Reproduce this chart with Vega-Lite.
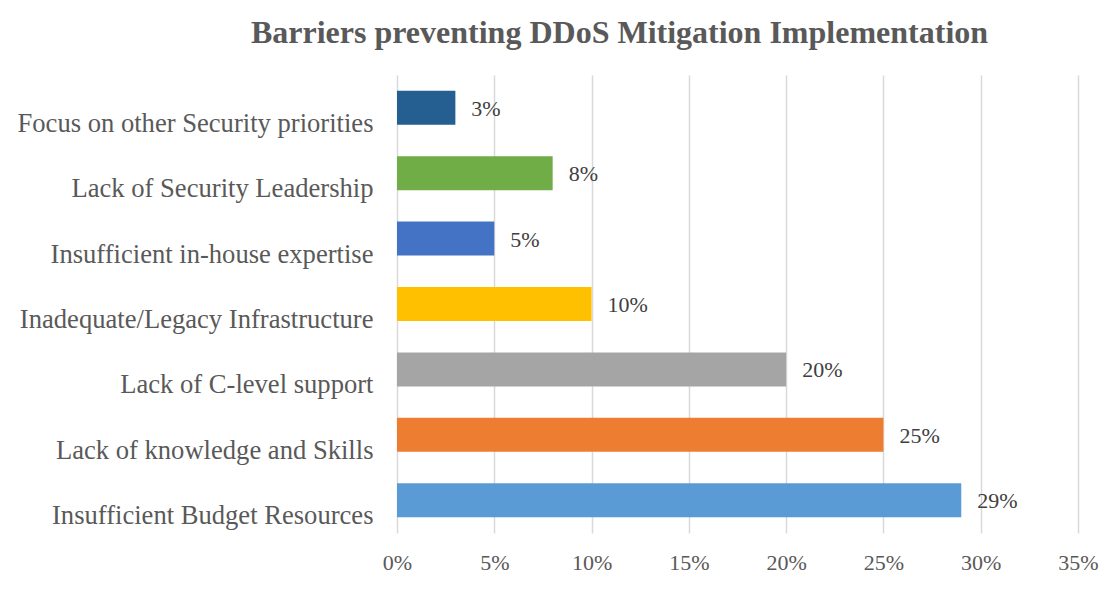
{
  "$schema": "https://vega.github.io/schema/vega-lite/v6.json",
  "width": 681,
  "height": 458,
  "autosize": {"type": "none"},
  "padding": {"left": 397, "top": 75, "right": 27, "bottom": 70},
  "background": "white",
  "title": {
    "text": "Barriers preventing DDoS Mitigation Implementation",
    "font": "Liberation Serif",
    "fontSize": 32,
    "fontWeight": "bold",
    "color": "#595959",
    "anchor": "middle",
    "frame": "group",
    "dx": -118,
    "baseline": "alphabetic",
    "offset": 0
  },
  "config": {
    "view": {"stroke": null},
    "font": "Liberation Serif"
  },
  "data": {
    "values": [
      {"barrier": "Focus on other Security priorities", "value": 3},
      {"barrier": "Lack of Security Leadership", "value": 8},
      {"barrier": "Insufficient in-house expertise", "value": 5},
      {"barrier": "Inadequate/Legacy Infrastructure", "value": 10},
      {"barrier": "Lack of C-level support", "value": 20},
      {"barrier": "Lack of knowledge and Skills", "value": 25},
      {"barrier": "Insufficient Budget Resources", "value": 29}
    ]
  },
  "encoding": {
    "y": {
      "field": "barrier",
      "type": "nominal",
      "sort": null,
      "scale": {"paddingInner": 0.48, "paddingOuter": 0.24},
      "axis": {
        "title": null,
        "domain": false,
        "ticks": false,
        "tickSize": 0,
        "labelPadding": 24,
        "labelFont": "Liberation Serif",
        "labelFontSize": 26.6,
        "labelColor": "#595959",
        "labelLimit": 500,
        "labelOffset": 16
      }
    },
    "x": {
      "field": "value",
      "type": "quantitative",
      "scale": {"domain": [0, 35], "nice": false},
      "axis": {
        "title": null,
        "values": [0, 5, 10, 15, 20, 25, 30, 35],
        "labelExpr": "datum.value + '%'",
        "labelFlush": false,
        "labelOverlap": false,
        "domain": false,
        "ticks": false,
        "tickSize": 0,
        "labelPadding": 19,
        "labelFont": "Liberation Serif",
        "labelFontSize": 22,
        "labelColor": "#595959",
        "grid": true,
        "gridColor": "#D9D9D9",
        "gridWidth": 1.5
      }
    }
  },
  "layer": [
    {
      "mark": {"type": "bar"},
      "encoding": {
        "color": {
          "field": "barrier",
          "type": "nominal",
          "legend": null,
          "scale": {
            "domain": [
              "Focus on other Security priorities",
              "Lack of Security Leadership",
              "Insufficient in-house expertise",
              "Inadequate/Legacy Infrastructure",
              "Lack of C-level support",
              "Lack of knowledge and Skills",
              "Insufficient Budget Resources"
            ],
            "range": ["#255E91", "#70AD47", "#4472C4", "#FFC000", "#A5A5A5", "#ED7D31", "#5B9BD5"]
          }
        }
      }
    },
    {
      "mark": {
        "type": "text",
        "align": "left",
        "baseline": "middle",
        "dx": 16,
        "dy": 1,
        "font": "Liberation Serif",
        "fontSize": 22,
        "color": "#404040",
        "text": {"expr": "datum.value + '%'"}
      },
      "encoding": {}
    }
  ]
}
